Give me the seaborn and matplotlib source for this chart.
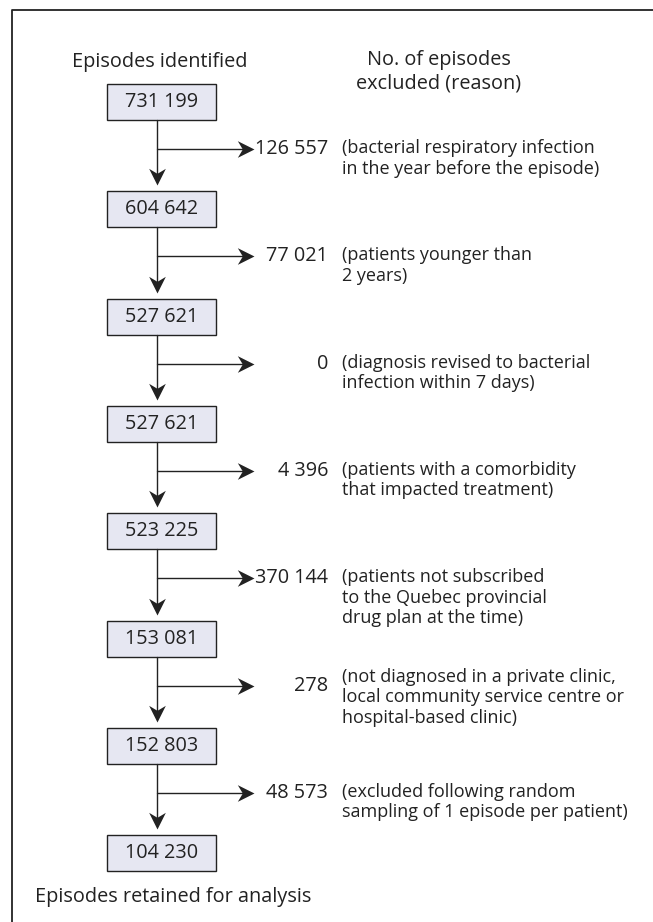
import matplotlib
matplotlib.use("Agg")
import matplotlib.pyplot as plt
import seaborn as sns
from matplotlib.patches import Rectangle
from matplotlib.path import Path

# counts in the flow (episodes remaining after each step)
remaining = [731199, 604642, 527621, 527621, 523225, 153081, 152803, 104230]
# episodes excluded at each step
excluded = [126557, 77021, 0, 4396, 370144, 278, 48573]
reasons = [
    "(bacterial respiratory infection\nin the year before the episode)",
    "(patients younger than\n2 years)",
    "(diagnosis revised to bacterial\ninfection within 7 days)",
    "(patients with a comorbidity\nthat impacted treatment)",
    "(patients not subscribed\nto the Quebec provincial\ndrug plan at the time)",
    "(not diagnosed in a private clinic,\nlocal community service centre or\nhospital-based clinic)",
    "(excluded following random\nsampling of 1 episode per patient)",
]
top_label = "Episodes identified"
right_header = "No. of episodes\nexcluded (reason)"
bottom_label = "Episodes retained for analysis"


def fmt(n):
    return f"{n:,}".replace(",", " ")


sns.set_theme(style="white")
plt.rcParams["font.family"] = ["Open Sans", "DejaVu Sans"]

ink = "#222222"
box_fill = "#e6e7f2"
big, small = 14.3, 13.0

# notched arrow heads, tip at the marker origin
head_right = Path([(0, 0), (-1, 0.5), (-0.7, 0), (-1, -0.5), (0, 0)],
                  [Path.MOVETO, Path.LINETO, Path.LINETO, Path.LINETO, Path.CLOSEPOLY])
head_down = Path([(0, 0), (-0.5, 1), (0, 0.7), (0.5, 1), (0, 0)],
                 [Path.MOVETO, Path.LINETO, Path.LINETO, Path.LINETO, Path.CLOSEPOLY])

fig = plt.figure(figsize=(6.53, 9.22), dpi=100)
ax = fig.add_axes([0, 0, 1, 1])
ax.set_xlim(0, 653)
ax.set_ylim(922, 0)
ax.axis("off")

# outer frame (runs off the right and bottom edges)
ax.plot([12, 12, 700], [960, 10, 10], color=ink, lw=1.3, solid_capstyle="butt")

# layout
y0, step = 102, 107.3
box_w, box_h = 109, 36
box_left = 107
stem_x = 157
tip_x = 254
num_right = 328
reason_left = 342
branch_off = 47
reason_shift = {5: -8}  # the 278 note sits a bit higher

ax.text(160, 62, top_label, ha="center", va="center", fontsize=big, color=ink)
ax.text(439, 72, right_header, ha="center", va="center", fontsize=big,
        color=ink, linespacing=1.2)

for i, n in enumerate(remaining):
    cy = y0 + i * step
    ax.add_patch(Rectangle((box_left, cy - box_h / 2), box_w, box_h,
                           facecolor=box_fill, edgecolor=ink, lw=1.0))
    ax.text(box_left + box_w / 2, cy, fmt(n), ha="center", va="center",
            fontsize=big, color=ink)

for i, (n, why) in enumerate(zip(excluded, reasons)):
    cy = y0 + i * step
    by = cy + branch_off
    down_tip = cy + step - box_h / 2 - 6
    # vertical flow arrow to the next box
    ax.plot([stem_x, stem_x], [cy + box_h / 2, down_tip - 10], color=ink, lw=1.0)
    ax.plot([stem_x], [down_tip], marker=head_down, ms=24, color=ink, mew=0)
    # side arrow to the exclusion count
    ax.plot([stem_x, tip_x - 10], [by, by], color=ink, lw=1.0)
    ax.plot([tip_x], [by], marker=head_right, ms=24, color=ink, mew=0)
    ax.text(num_right, by, fmt(n), ha="right", va="center", fontsize=big,
            color=ink)
    ry = by + reason_shift.get(i, 0)
    ax.text(reason_left, ry - 10, why, ha="left", va="top", fontsize=small,
            color=ink, linespacing=1.18)

ax.text(35, 897, bottom_label, ha="left", va="center", fontsize=big, color=ink)

fig.savefig("out.png", dpi=100)
